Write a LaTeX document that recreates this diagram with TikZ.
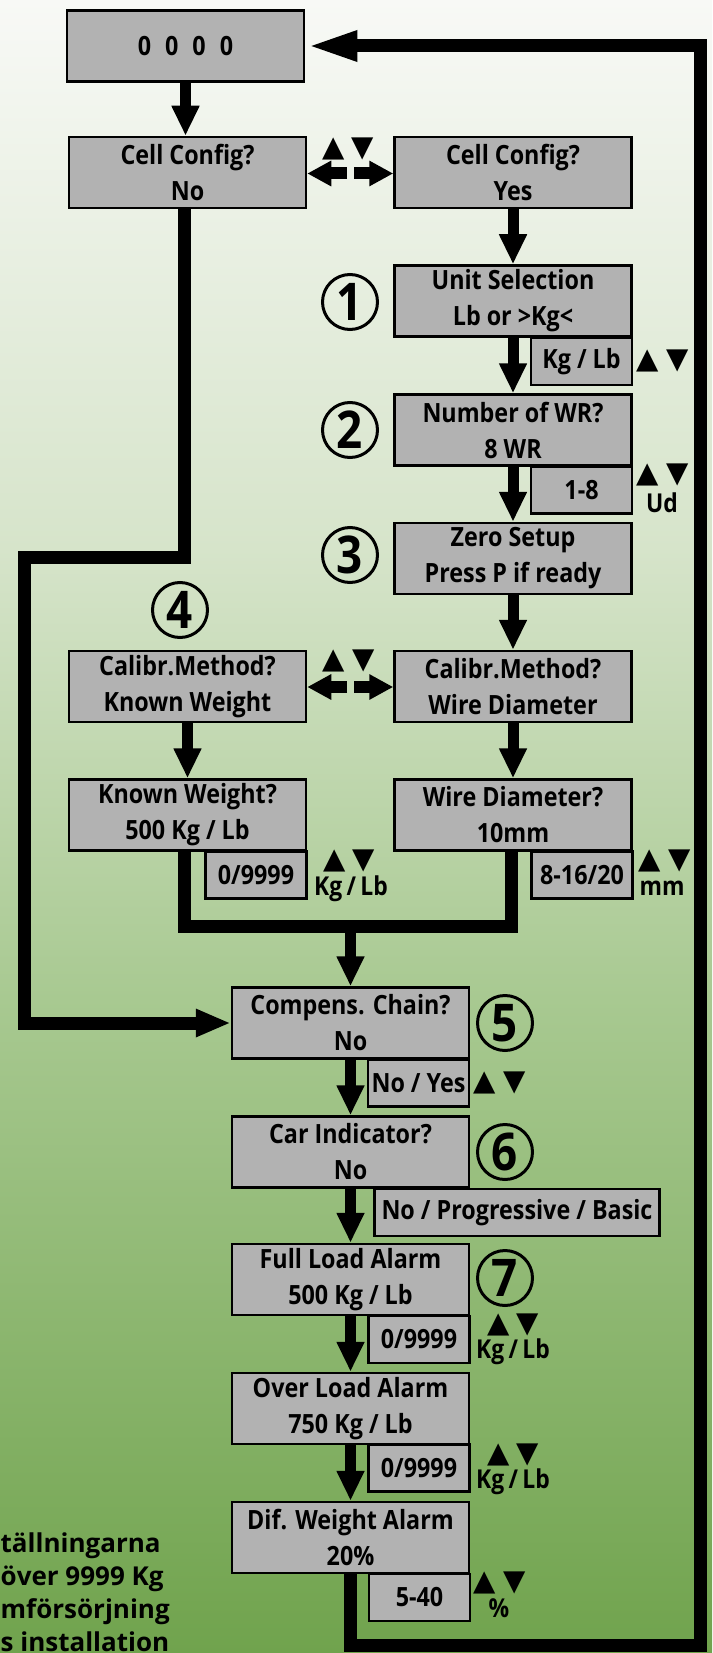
\documentclass[tikz,border=0pt]{standalone}
\usepackage{fontspec}
\setmainfont{Open Sans}[FakeStretch=0.88]
\newfontfamily\notefont{Open Sans}
\newfontfamily\symfont{DejaVu Sans}
\usetikzlibrary{arrows.meta,calc}
\definecolor{boxgray}{RGB}{178,178,178}
\definecolor{gT}{RGB}{248,249,246}
\definecolor{gA}{RGB}{214,228,202}
\definecolor{gB}{RGB}{168,201,145}
\definecolor{gC}{RGB}{112,163,77}
\pgfdeclareverticalshading{bgshade}{100bp}{color(0bp)=(gC); color(25bp)=(gC); color(44.8bp)=(gB); color(58.4bp)=(gA); color(75bp)=(gT); color(100bp)=(gT)}
\begin{document}
\begin{tikzpicture}[x=1pt,y=-1pt,
  box/.style={draw=black, line width=2.5pt, fill=boxgray, minimum width=237pt, minimum height=71pt, inner sep=0pt, align=center, font=\bfseries\fontsize{26.5}{36}\selectfont},
  sbox/.style={box, minimum width=101pt, minimum height=47pt},
  num/.style={circle, draw=black, line width=3pt, minimum size=55pt, inner sep=0pt, font=\bfseries\fontsize{52}{52}\selectfont},
  tri/.style={inner sep=0pt, font=\symfont\fontsize{29}{29}\selectfont},
  lab/.style={inner sep=0pt, anchor=base, font=\bfseries\fontsize{26}{26}\selectfont},
  flow/.style={line width=11pt, -{Triangle[length=30pt,width=26pt]}},
  loopline/.style={line width=13pt, line join=miter},
  swap/.style={line width=12pt, -{Triangle[length=24pt,width=24pt]}},
]
\path[use as bounding box] (0,0) rectangle (712,1653);
\clip (0,0) rectangle (712,1653);
\shade[shading=bgshade] (0,0) rectangle (712,1653);

% boxes
\node[box] (zero) at (185.5,46) {0\hspace{14pt}0\hspace{14pt}0\hspace{14pt}0};
\node[box] (cellNo) at (187.5,172.5) {Cell Config?\\No};
\node[box] (cellYes) at (513,172.5) {Cell Config?\\Yes};
\node[box] (unit) at (513,301) {Unit Selection\\Lb or >Kg<};
\node[sbox] (ukg) at (581.5,361.5) {Kg / Lb};
\node[box] (nwr) at (513,430) {Number of WR?\\8 WR};
\node[sbox] (r18) at (581.5,490) {1-8};
\node[box] (zset) at (513,558.5) {Zero Setup\\Press P if ready};
\node[box] (calK) at (187.5,686.5) {Calibr.Method?\\Known Weight};
\node[box] (calW) at (513,686.5) {Calibr.Method?\\Wire Diameter};
\node[box] (kw) at (187.5,815) {Known Weight?\\500 Kg / Lb};
\node[sbox] (kwr) at (256,875) {0/9999};
\node[box] (wd) at (513,815) {Wire Diameter?\\10mm};
\node[sbox] (wdr) at (582,875) {8-16/20};
\node[box] (comp) at (350.5,1023) {Compens. Chain?\\No};
\node[sbox] (compr) at (418.5,1083) {No / Yes};
\node[box] (car) at (350.5,1152) {Car Indicator?\\No};
\node[sbox, minimum width=285pt] (carr) at (517,1212.5) {No / Progressive / Basic};
\node[box] (full) at (350.5,1279.5) {Full Load Alarm\\500 Kg / Lb};
\node[sbox] (fullr) at (419,1339.5) {0/9999};
\node[box] (over) at (350.5,1408.5) {Over Load Alarm\\750 Kg / Lb};
\node[sbox] (overr) at (419,1468) {0/9999};
\node[box] (dif) at (350.5,1537.5) {Dif. Weight Alarm\\20\%};
\node[sbox] (difr) at (419.5,1597.5) {5-40};

% step numbers
\node[num] (n1) at (350,302) {1};
\node[num] (n2) at (350,430) {2};
\node[num] (n3) at (350,555) {3};
\node[num] (n4) at (180,610) {4};
\node[num] (n5) at (505,1023) {5};
\node[num] (n6) at (505,1152) {6};
\node[num] (n7) at (505,1278) {7};

% up/down keys and unit labels
\node[tri] (k1u) at (334,149) {▲}; \node[tri] (k1d) at (363,149) {▼};
\node[tri] (k2u) at (648,361) {▲}; \node[tri] (k2d) at (678,361) {▼};
\node[tri] (k3u) at (648,475) {▲}; \node[tri] (k3d) at (678,475) {▼};
\node[lab] (ud) at (662,512) {Ud};
\node[tri] (k4u) at (334,661) {▲}; \node[tri] (k4d) at (364,661) {▼};
\node[tri] (k5u) at (335,861) {▲}; \node[tri] (k5d) at (364,861) {▼};
\node[lab] (u5) at (351,895) {Kg\,/\,Lb};
\node[tri] (k6u) at (650,861) {▲}; \node[tri] (k6d) at (680,861) {▼};
\node[lab] (u6) at (662,895) {mm};
\node[tri] (k7u) at (485,1083) {▲}; \node[tri] (k7d) at (515,1083) {▼};
\node[tri] (k8u) at (499,1325) {▲}; \node[tri] (k8d) at (528,1325) {▼};
\node[lab] (u8) at (513,1358) {Kg\,/\,Lb};
\node[tri] (k9u) at (499,1455) {▲}; \node[tri] (k9d) at (528,1455) {▼};
\node[lab] (u9) at (513,1488) {Kg\,/\,Lb};
\node[tri] (k10u) at (485,1583) {▲}; \node[tri] (k10d) at (515,1583) {▼};
\node[lab] (u10) at (499,1617) {\%};

% note text (runs against the left and bottom edges, as in the original)
\node[inner sep=0pt, anchor=base west, align=left, font=\notefont\bfseries\fontsize{26}{33}\selectfont] (note) at (0.5,1651) {tällningarna\\över 9999 Kg\\mförsörjning\\s installation};

% vertical flow arrows
\draw[flow] (zero.south) -- (zero.south |- cellNo.north);
\draw[flow] (cellYes.south) -- (unit.north);
\draw[flow] (unit.south) -- (nwr.north);
\draw[flow] (nwr.south) -- (zset.north);
\draw[flow] (zset.south) -- (calW.north);
\draw[flow] (calK.south) -- (kw.north);
\draw[flow] (calW.south) -- (wd.north);
\draw[flow] (comp.south) -- (car.north);
\draw[flow] (car.south) -- (full.north);
\draw[flow] (full.south) -- (over.north);
\draw[flow] (over.south) -- (dif.north);

% merge of the two calibration branches
\coordinate (mL) at (184,926.5);
\coordinate (mR) at (511,926.5);
\coordinate (mC) at (350.5,926.5);
\draw[loopline] (kw.south -| mL) -- (mL) -- (mR) -- (wd.south -| mR);
\draw[flow] (mC) -- (comp.north);

% swap arrows
\coordinate (sL) at (347,173.5); \coordinate (sR) at (354,173.5);
\draw[swap] (sL) -- (cellNo.east |- sL);
\draw[swap] (sR) -- (cellYes.west |- sR);
\coordinate (tL) at (347,687); \coordinate (tR) at (354,687);
\draw[swap] (tL) -- (calK.east |- tL);
\draw[swap] (tR) -- (calW.west |- tR);

% left bypass (Cell Config No)
\coordinate (l1) at (184,557.5);
\coordinate (l2) at (24,557.5);
\coordinate (l3) at (24,1023);
\draw[loopline, -{Triangle[length=35pt,width=26pt]}] (cellNo.south -| l1) -- (l1) -- (l2) -- (l3) -- (comp.west);

% return loop
\coordinate (lb) at (350.5,1645);
\coordinate (rb) at (700,1645);
\coordinate (rt) at (700,46);
\draw[loopline, -{Triangle[length=52pt,width=27pt]}] (dif.south) -- (lb) -- (rb) -- (rt) -- (zero.east);
\end{tikzpicture}
\end{document}
